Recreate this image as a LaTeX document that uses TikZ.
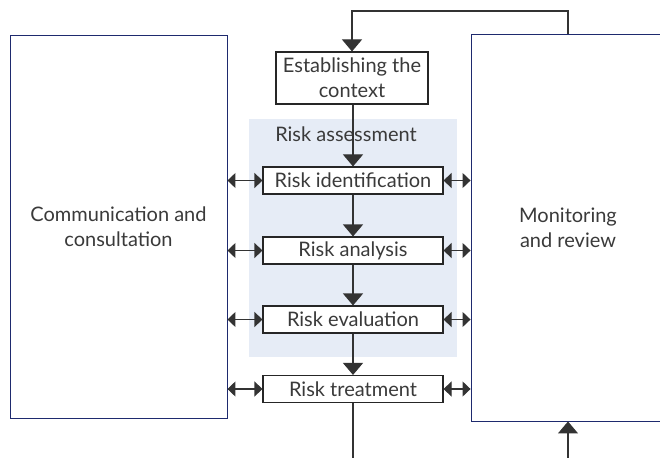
\documentclass[tikz,border=0pt]{standalone}
\usepackage{fontspec}
\setmainfont{Lato}
\usetikzlibrary{arrows.meta,positioning}
\definecolor{navy}{HTML}{1E2A6E}
\definecolor{txt}{HTML}{3A3A3A}
\definecolor{rabg}{HTML}{E6ECF6}
\tikzset{
  bigbox/.style={draw=navy, line width=0.9pt, fill=white, align=center, text=txt, font=\fontsize{20}{25}\selectfont},
  stepbox/.style={draw=black!85, line width=1.1pt, fill=white, minimum width=180pt, minimum height=27pt, inner sep=0pt, text=txt, font=\fontsize{20}{24}\selectfont},
  vtip/.tip={Triangle[length=12pt,width=20pt]},
  htip/.tip={Triangle[length=8pt,width=15pt]},
  conn/.style={draw=black!80, line width=1.1pt},
}
\begin{document}
\begin{tikzpicture}[x=1pt,y=-1pt]
\useasboundingbox (0,0) rectangle (660,457);
\begin{scope}
\clip (0,0) rectangle (660,457);
\fill[rabg] (249,119) rectangle (457,357);
\node[bigbox, minimum width=217pt, minimum height=383pt] (cc) at (118.5,226.5) {Communication and\\consultation};
\node[bigbox, minimum width=194pt, minimum height=387pt] (mr) at (568,227.5) {Monitoring\\and review};
\node[text=txt, font=\fontsize{20}{24}\selectfont] (ra) at (346,134) {Risk assessment};
\node[stepbox, minimum width=152pt, minimum height=52pt, align=center, font=\fontsize{20}{25}\selectfont] (ctx) at (352,78) {Establishing the\\context};
\node[stepbox] (id) at (353,180.5) {Risk identification};
\node[stepbox] (an) at (353,250.5) {Risk analysis};
\node[stepbox] (ev) at (353,319.5) {Risk evaluation};
\node[stepbox] (tr) at (353,389) {Risk treatment};
\coordinate (bend) at (352,11);
\coordinate (out) at (353,460);
\coordinate (in) at (568,460);
\draw[conn,-vtip] (mr.north) |- (bend) -- (ctx.north);
\draw[conn,-vtip] (ctx.south -| id.north) -- (id.north);
\draw[conn,-vtip] (id) -- (an);
\draw[conn,-vtip] (an) -- (ev);
\draw[conn,-vtip] (ev) -- (tr);
\draw[conn] (tr.south) -- (out);
\draw[conn,-vtip] (in) -- (mr.south);
\foreach \n in {id,an,ev,tr}{
  \draw[conn,htip-htip] (cc.east |- \n.west) -- (\n.west);
  \draw[conn,htip-htip] (\n.east) -- (mr.west |- \n.east);
}
\end{scope}
\end{tikzpicture}
\end{document}
